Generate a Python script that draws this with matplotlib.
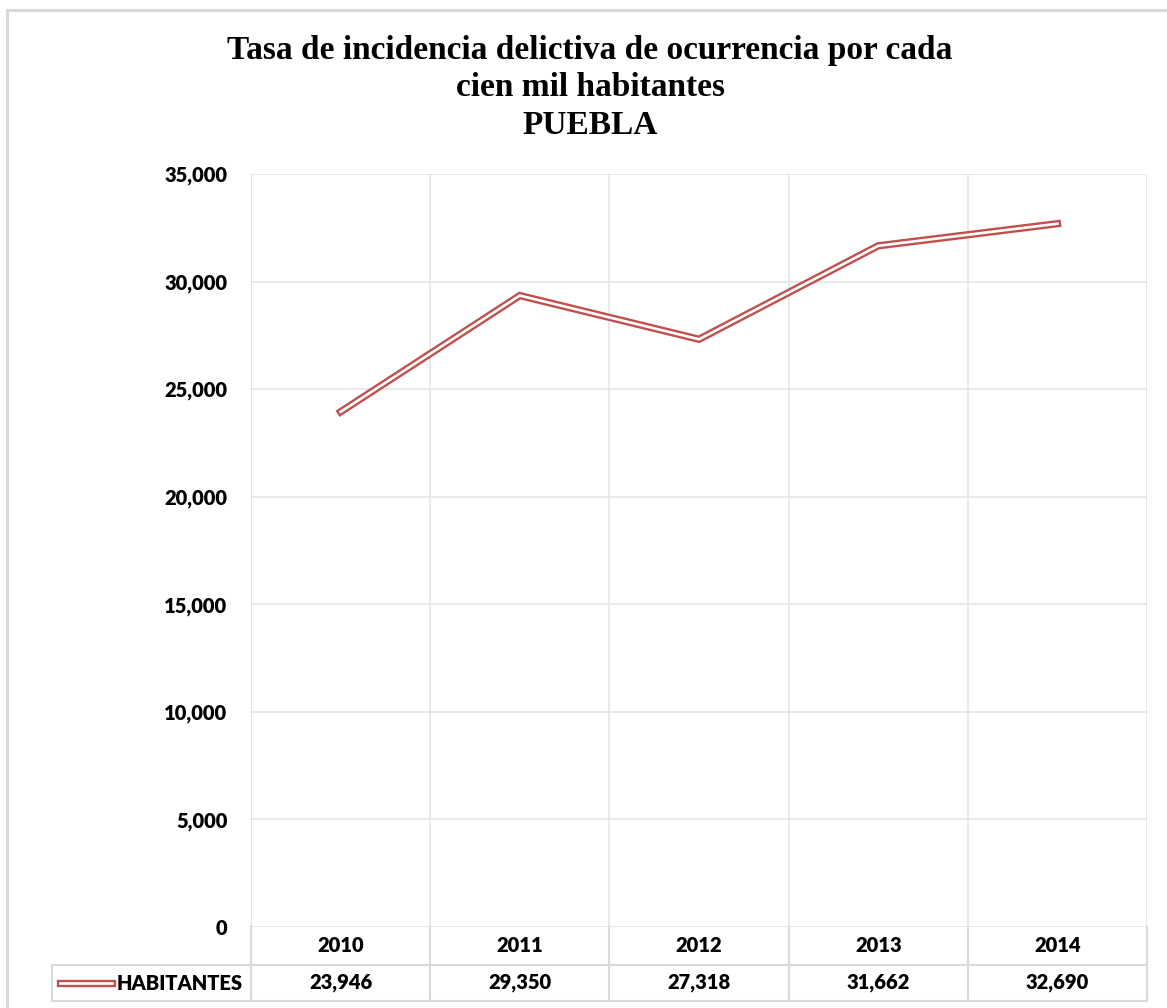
import matplotlib.pyplot as plt
from matplotlib.lines import Line2D

# datos
years = ["2010", "2011", "2012", "2013", "2014"]
habitantes = [23946, 29350, 27318, 31662, 32690]
yticks = [0, 5000, 10000, 15000, 20000, 25000, 30000, 35000]
serie = "HABITANTES"
titulo = "Tasa de incidencia delictiva de ocurrencia por cada\ncien mil habitantes\nPUEBLA"

W, H = 1167, 1008
rojo = "#C0504D"
gris = "#E3E3E3"
fuente = "Lato"
peso = "heavy"
tam = 14.5

fig = plt.figure(figsize=(W / 100, H / 100), dpi=100)

# marco exterior
fig.add_artist(Line2D([7 / W, 1], [1 - 10 / H, 1 - 10 / H], color="#D9D9D9", lw=2.2))
fig.add_artist(Line2D([7 / W, 7 / W], [0, 1 - 10 / H], color="#D9D9D9", lw=2.2))

x0, x1, y0, y1 = 251, 1147, 174, 927
ax = fig.add_axes([x0 / W, 1 - y1 / H, (x1 - x0) / W, (y1 - y0) / H])
ax.set_xlim(0, len(years))
ax.set_ylim(0, 35000)

xs = [i + 0.5 for i in range(len(years))]
ax.plot(xs, habitantes, color=rojo, lw=5.3, solid_joinstyle="miter", zorder=3)
ax.plot(xs, habitantes, color="white", lw=1.9, solid_joinstyle="miter", zorder=4)

ax.set_yticks(yticks)
ax.set_yticklabels([f"{v:,}" for v in yticks], fontfamily=fuente, fontweight=peso, fontsize=tam)
ax.tick_params(axis="y", length=0, pad=17)
ax.set_xticks(range(len(years) + 1))
ax.set_xticklabels([])
ax.tick_params(axis="x", length=0)
ax.grid(True, color=gris, lw=1.1)
for s in ax.spines.values():
    s.set_visible(False)
ax.axvline(0, color=gris, lw=1.3)

# tabla de datos
def fy(py):
    return (y1 - py) / (y1 - y0)

def fx(px):
    return (px - x0) / (x1 - x0)

r1, r2 = 965, 1001
tabla = dict(color="#D9D9D9", lw=1.5, transform=ax.transAxes, clip_on=False)
ax.add_artist(Line2D([fx(52), 1], [fy(r1), fy(r1)], **tabla))
ax.add_artist(Line2D([fx(52), 1], [fy(r2), fy(r2)], **tabla))
ax.add_artist(Line2D([fx(52), fx(52)], [fy(r1), fy(r2)], **tabla))
for i in range(len(years) + 1):
    ax.add_artist(Line2D([i / len(years)] * 2, [0, fy(r2)], **tabla))

txt = dict(fontfamily=fuente, fontweight=peso, fontsize=tam, ha="center", va="center",
           transform=ax.get_xaxis_transform(), clip_on=False)
for i, (yr, v) in enumerate(zip(years, habitantes)):
    ax.text(xs[i], fy((y1 + r1) / 2), yr, **txt)
    ax.text(xs[i], fy((r1 + r2) / 2), f"{v:,}", **txt)

ym = fy((r1 + r2) / 2)
ax.add_artist(Line2D([fx(60), fx(112)], [ym, ym], color=rojo, lw=5.3, transform=ax.transAxes, clip_on=False))
ax.add_artist(Line2D([fx(60), fx(112)], [ym, ym], color="white", lw=1.9, transform=ax.transAxes, clip_on=False))
ax.text(fx(117), ym, serie, fontfamily=fuente, fontweight=peso, fontsize=tam,
        ha="left", va="center", transform=ax.transAxes, clip_on=False)

fig.text(590 / W, 1 - 88 / H, titulo, ha="center", va="center", fontfamily="Liberation Serif",
         fontweight="bold", fontsize=24, linespacing=1.25)

fig.savefig("out.png", dpi=100)
